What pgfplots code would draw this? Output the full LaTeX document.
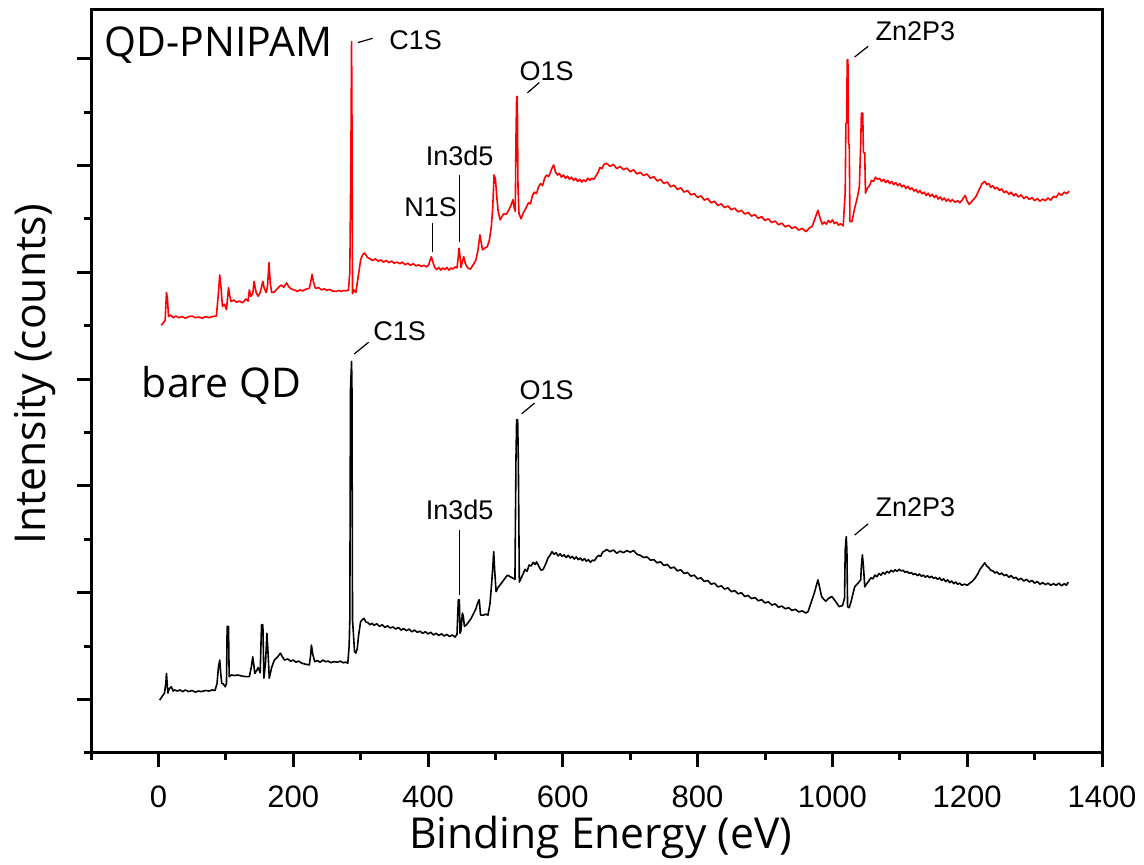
\documentclass[border=0pt]{standalone}
\usepackage{fontspec}
\setmainfont{Liberation Sans}
\newfontfamily\osans{Open Sans}
\usepackage{pgfplots}
\pgfplotsset{compat=1.18}
\begin{document}
\begin{tikzpicture}
\begin{axis}[
 scale only axis, width=505.5pt, height=371.5pt,
 xmin=-100, xmax=1400, ymin=0, ymax=13.91,
 axis line style={line width=1.5pt},
 xtick={0,200,...,1400}, minor xtick={-100,100,...,1300},
 ytick={1,3,...,13}, minor ytick={0,2,...,14}, yticklabels={},
 tick align=outside, tick pos=left,
 major tick length=7pt, minor tick length=3.5pt,
 every tick/.style={black, line width=1.5pt},
 tick label style={font=\fontsize{15.5}{18}\selectfont},
 xticklabel style={yshift=-6pt},
 /pgf/number format/assume math mode=true,
 /pgf/number format/1000 sep={},
 xlabel={Binding Energy (eV)}, ylabel={Intensity (counts)},
 label style={font=\osans\fontsize{21.3}{25}\selectfont},
 xlabel style={at={(axis description cs:0.504,-0.113)}, anchor=center},
 ylabel style={at={(axis description cs:-0.0554,0.51)}, anchor=center},
]
% QD-PNIPAM (red)
\addplot[red, line width=0.8pt, line join=round] coordinates {
(4,8.01)(7,8.05)(10,8.10)(12,8.62)(13.5,8.50)(15,8.17)(18,8.20)(22,8.15)(26,8.18)(30,8.15)(35,8.17)(40,8.14)(45,8.17)(50,8.18)(55,8.15)(60,8.16)(65,8.14)(70,8.17)(75,8.15)(80,8.17)(86,8.18)(89,8.60)(91,8.95)(93,8.70)(95,8.36)(98,8.40)(101,8.30)(104,8.71)(106,8.55)(108,8.45)(112,8.48)(116,8.44)(120,8.46)(125,8.43)(130,8.50)(133,8.46)(135,8.67)(137,8.55)(140,8.60)(142,8.83)(145,8.62)(148,8.55)(151,8.62)(155,8.83)(157,8.70)(160,8.62)(162,8.75)(164,9.18)(166,8.80)(168,8.62)(172,8.63)(177,8.70)(182,8.76)(186,8.72)(190,8.80)(194,8.72)(198,8.68)(202,8.67)(206,8.64)(210,8.67)(214,8.65)(218,8.68)(224,8.70)(226,8.82)(228,8.96)(230,8.82)(233,8.70)(238,8.71)(242,8.67)(246,8.69)(250,8.66)(254,8.68)(258,8.65)(264,8.64)(268,8.66)(271,8.64)(275,8.66)(278,8.65)(282,8.67)(284,9.0)(285,10.32)(285.8,11.6)(286.6,13.32)(287.3,11.6)(288,8.60)(290,8.67)(293,8.62)(295,8.80)(298,9.05)(300,9.23)(303,9.33)(306,9.36)(310,9.28)(314,9.25)(318,9.22)(322,9.25)(326,9.21)(330,9.23)(334,9.19)(338,9.22)(342,9.18)(346,9.21)(350,9.17)(354,9.19)(358,9.16)(362,9.19)(366,9.14)(370,9.17)(374,9.13)(378,9.16)(382,9.12)(386,9.14)(390,9.11)(394,9.13)(398,9.10)(401,9.14)(403,9.22)(405,9.29)(407,9.20)(410,9.09)(413,9.05)(416,9.09)(419,9.04)(422,9.08)(425,9.05)(428,9.09)(431,9.04)(434,9.08)(437,9.06)(440,9.10)(443,9.08)(445,9.30)(446,9.45)(447.5,9.30)(449,9.09)(451,9.20)(453,9.29)(455,9.18)(457,9.12)(460,9.07)(463,9.06)(466,9.12)(469,9.18)(471,9.23)(474,9.40)(477,9.70)(479,9.55)(481,9.42)(484,9.45)(488,9.48)(491,9.60)(494,9.86)(496,10.2)(498,10.82)(500,10.75)(502,10.42)(504,10.15)(507,9.98)(510,10.05)(513,10.10)(516,10.08)(520,10.17)(523,10.25)(526,10.36)(528,10.20)(529.5,10.14)(530.5,11.5)(531.5,12.29)(532.5,12.29)(533.5,10.6)(535,10.10)(538,10.00)(540,10.07)(543,10.15)(546,10.22)(549,10.30)(552,10.28)(555,10.44)(558,10.50)(561,10.47)(564,10.60)(567,10.66)(570,10.62)(573,10.76)(576,10.82)(579,10.79)(582,10.88)(584,10.95)(586.5,11.01)(589,10.88)(592,10.82)(595,10.85)(598,10.78)(601,10.82)(604,10.76)(607,10.80)(610,10.74)(613,10.78)(616,10.72)(619,10.76)(622,10.70)(625,10.74)(628,10.69)(631,10.73)(634,10.70)(637,10.76)(640,10.72)(643,10.76)(646,10.74)(649,10.80)(652,10.86)(655,10.96)(658,10.94)(661,11.02)(665,11.04)(670,10.98)(675,11.02)(680,10.94)(685,10.98)(690,10.92)(695,10.95)(700,10.88)(705,10.92)(710,10.84)(715,10.87)(720,10.81)(725,10.84)(730,10.76)(735,10.79)(740,10.71)(745,10.74)(750,10.66)(755,10.69)(760,10.60)(765,10.63)(770,10.55)(775,10.58)(780,10.50)(785,10.53)(790,10.45)(795,10.47)(800,10.40)(805,10.43)(810,10.35)(815,10.38)(820,10.30)(825,10.33)(830,10.25)(835,10.28)(840,10.21)(845,10.24)(850,10.17)(855,10.20)(860,10.13)(865,10.16)(870,10.09)(875,10.12)(880,10.05)(885,10.08)(890,10.01)(895,10.04)(900,9.97)(905,10.00)(910,9.93)(915,9.96)(920,9.89)(925,9.92)(930,9.85)(935,9.88)(940,9.82)(945,9.85)(950,9.79)(955,9.82)(961,9.76)(965,9.82)(970,9.86)(974,10.00)(978.5,10.16)(982,10.00)(985,9.90)(988,9.94)(991,9.90)(994,9.97)(997,9.93)(1000,9.98)(1003,9.91)(1006,9.94)(1009,9.88)(1012,9.91)(1016,9.87)(1019,10.5)(1020,11.79)(1021,11.79)(1022,12.98)(1023,12.98)(1024,11.39)(1025,11.39)(1026,9.95)(1029,9.95)(1033,10.2)(1037,10.4)(1040,10.6)(1042,11.42)(1043,11.98)(1045,11.98)(1046,11.24)(1048,11.24)(1049,10.48)(1052,10.58)(1055,10.62)(1058,10.72)(1061,10.70)(1064,10.78)(1067,10.74)(1070,10.76)(1073,10.70)(1076,10.74)(1079,10.68)(1082,10.72)(1085,10.66)(1088,10.70)(1091,10.64)(1094,10.68)(1097,10.62)(1100,10.66)(1103,10.60)(1106,10.63)(1109,10.57)(1112,10.61)(1115,10.55)(1118,10.58)(1121,10.52)(1124,10.55)(1127,10.49)(1130,10.53)(1133,10.47)(1136,10.50)(1139,10.44)(1142,10.48)(1145,10.42)(1148,10.46)(1151,10.40)(1154,10.44)(1157,10.37)(1160,10.41)(1163,10.35)(1166,10.39)(1169,10.33)(1172,10.37)(1175,10.32)(1178,10.36)(1182,10.31)(1186,10.34)(1189,10.30)(1193,10.36)(1197,10.44)(1200,10.33)(1203,10.27)(1207,10.33)(1210,10.37)(1213,10.42)(1216,10.50)(1219,10.58)(1222,10.66)(1226,10.70)(1229,10.64)(1232,10.66)(1235,10.59)(1238,10.62)(1241,10.56)(1244,10.59)(1248,10.53)(1251,10.56)(1255,10.49)(1258,10.52)(1262,10.46)(1265,10.50)(1269,10.43)(1272,10.47)(1276,10.41)(1280,10.45)(1284,10.38)(1288,10.42)(1292,10.36)(1296,10.40)(1300,10.34)(1304,10.38)(1308,10.33)(1312,10.37)(1316,10.34)(1320,10.39)(1324,10.35)(1328,10.42)(1332,10.40)(1336,10.48)(1340,10.44)(1344,10.50)(1348,10.47)(1351,10.52)
};
% bare QD (black)
\addplot[black, line width=0.8pt, line join=round] coordinates {
(2,0.99)(5,1.05)(9,1.12)(11,1.30)(12,1.49)(13,1.30)(14,1.12)(16,1.20)(19,1.24)(22,1.16)(24,1.18)(28,1.16)(32,1.18)(36,1.15)(40,1.18)(45,1.15)(50,1.17)(55,1.14)(59,1.16)(64,1.15)(70,1.17)(75,1.16)(80,1.18)(84,1.17)(87,1.30)(89,1.60)(91,1.74)(92.5,1.49)(94,1.30)(96,1.30)(99,1.24)(101,1.30)(102,2.37)(104,2.37)(105,1.43)(108,1.46)(113,1.45)(118,1.46)(124,1.44)(130,1.43)(135,1.43)(138,1.62)(140,1.80)(142,1.60)(143,1.49)(146,1.55)(148,1.60)(151,1.50)(153,2.40)(155,2.40)(156.5,1.40)(159,1.70)(161,2.24)(163,1.80)(164.5,1.40)(168,1.60)(172,1.74)(177,1.80)(181,1.87)(184,1.80)(187,1.74)(192,1.76)(196,1.72)(200,1.74)(204,1.70)(208,1.72)(213,1.68)(219,1.66)(224,1.65)(226,1.85)(227,2.02)(229,1.85)(232,1.71)(236,1.73)(240,1.70)(244,1.74)(248,1.71)(252,1.72)(256,1.69)(260,1.71)(266,1.70)(270,1.72)(274,1.69)(278,1.70)(281,1.68)(283,2.0)(284,2.49)(285,6.80)(286.6,7.33)(287.2,6.80)(288,2.49)(289,2.3)(291,1.90)(293,1.87)(295,1.95)(297,2.2)(300,2.46)(303,2.50)(305,2.52)(308,2.45)(311,2.44)(314,2.40)(317,2.43)(320,2.39)(324,2.42)(328,2.37)(332,2.40)(336,2.35)(340,2.38)(344,2.34)(348,2.36)(352,2.32)(356,2.35)(360,2.30)(364,2.33)(368,2.29)(372,2.32)(376,2.27)(380,2.30)(384,2.26)(388,2.28)(392,2.24)(396,2.27)(400,2.23)(404,2.26)(408,2.21)(412,2.24)(416,2.20)(420,2.23)(424,2.19)(428,2.22)(432,2.18)(436,2.21)(440,2.17)(443,2.22)(445,2.87)(446.5,2.87)(447.5,2.24)(449,2.30)(451,2.62)(452.5,2.55)(454,2.37)(457,2.40)(460,2.45)(464,2.52)(468,2.62)(471,2.70)(474,2.82)(476,2.87)(478,2.58)(482,2.58)(486,2.60)(489,2.58)(492,2.80)(494,3.11)(496,3.45)(497.5,3.77)(499,3.40)(501,3.02)(504,3.10)(509,3.18)(513,3.25)(518,3.33)(522,3.30)(526.6,3.27)(529,3.25)(530.5,5.5)(531.5,6.24)(533,6.24)(534,5.5)(535.5,3.20)(538,3.27)(541,3.35)(544,3.44)(547,3.40)(550,3.52)(553,3.50)(556,3.57)(559,3.53)(561,3.58)(565,3.48)(568,3.42)(571,3.44)(575,3.55)(578,3.65)(581,3.70)(584,3.77)(587,3.72)(590,3.75)(593,3.69)(596,3.73)(599,3.68)(602,3.71)(605,3.66)(608,3.70)(611,3.65)(614,3.68)(617,3.63)(620,3.67)(623,3.62)(626,3.65)(629,3.60)(632,3.64)(635,3.59)(638,3.62)(641,3.57)(644,3.61)(647,3.60)(650,3.66)(653,3.70)(656,3.68)(659,3.76)(662,3.78)(665,3.81)(670,3.77)(675,3.80)(680,3.74)(685,3.78)(690,3.75)(695,3.79)(700,3.76)(705,3.79)(710,3.72)(715,3.70)(720,3.66)(725,3.67)(730,3.61)(735,3.62)(740,3.56)(745,3.58)(750,3.51)(755,3.53)(760,3.46)(765,3.48)(770,3.41)(775,3.43)(780,3.36)(785,3.38)(790,3.31)(795,3.33)(800,3.26)(805,3.28)(810,3.21)(815,3.23)(820,3.16)(825,3.18)(830,3.11)(835,3.13)(840,3.07)(845,3.09)(850,3.02)(855,3.04)(860,2.98)(865,3.00)(870,2.93)(875,2.95)(880,2.89)(885,2.91)(890,2.85)(895,2.87)(900,2.81)(905,2.83)(910,2.77)(915,2.79)(920,2.73)(925,2.75)(930,2.70)(935,2.72)(940,2.67)(945,2.69)(950,2.64)(955,2.66)(961,2.62)(964,2.65)(968,2.80)(973,2.99)(978.5,3.24)(981,3.10)(984,2.93)(987,2.88)(990,2.84)(995,2.90)(999,2.93)(1004,2.85)(1010,2.74)(1015,2.76)(1018,2.90)(1019,3.8)(1020.5,4.05)(1021.5,3.80)(1022.5,2.74)(1025,2.72)(1028,2.85)(1033,3.11)(1038,3.18)(1042,3.24)(1043,3.5)(1044.5,3.71)(1046,3.5)(1048,3.11)(1051,3.17)(1054,3.22)(1057,3.28)(1060,3.26)(1063,3.33)(1066,3.30)(1069,3.36)(1072,3.33)(1075,3.38)(1078,3.35)(1081,3.40)(1084,3.37)(1087,3.42)(1090,3.39)(1093,3.43)(1096,3.40)(1099,3.44)(1102,3.41)(1105,3.42)(1108,3.38)(1111,3.40)(1114,3.36)(1117,3.38)(1120,3.34)(1123,3.36)(1126,3.32)(1129,3.35)(1132,3.31)(1135,3.33)(1138,3.29)(1141,3.32)(1144,3.28)(1147,3.31)(1150,3.27)(1153,3.29)(1156,3.25)(1159,3.28)(1162,3.23)(1165,3.26)(1168,3.21)(1171,3.24)(1174,3.19)(1177,3.22)(1180,3.17)(1183,3.20)(1186,3.16)(1189,3.18)(1192,3.14)(1196,3.16)(1200,3.14)(1204,3.18)(1208,3.22)(1212,3.28)(1216,3.36)(1219,3.44)(1222,3.49)(1226,3.56)(1229,3.50)(1232,3.47)(1235,3.42)(1238,3.41)(1241,3.37)(1244,3.39)(1248,3.34)(1251,3.37)(1255,3.32)(1258,3.34)(1262,3.29)(1265,3.32)(1269,3.27)(1272,3.29)(1276,3.24)(1280,3.27)(1284,3.22)(1288,3.25)(1292,3.20)(1296,3.23)(1300,3.18)(1304,3.21)(1308,3.16)(1312,3.19)(1316,3.15)(1320,3.18)(1324,3.14)(1328,3.17)(1332,3.14)(1336,3.18)(1340,3.13)(1344,3.17)(1347,3.14)(1350,3.20)
};
% sample labels
\node[anchor=west, font=\osans\fontsize{20.5}{24}\selectfont, inner sep=0pt] at (axis cs:-80,13.26) {QD-PNIPAM};
\node[anchor=west, font=\osans\fontsize{20.5}{24}\selectfont, inner sep=0pt] at (axis cs:-25,6.89) {bare QD};
% peak labels
\begin{scope}[every node/.style={font=\fontsize{13.5}{16}\selectfont, inner sep=0pt}]
\node[anchor=west] at (axis cs:342,13.35) {C1S};
\draw[line width=0.6pt] (axis cs:296,13.30) -- (axis cs:318,13.38);
\node at (axis cs:404,10.22) {N1S};
\draw[line width=0.6pt] (axis cs:406.5,9.93) -- (axis cs:406.5,9.38);
\node at (axis cs:447,11.18) {In3d5};
\draw[line width=0.6pt] (axis cs:447,10.82) -- (axis cs:447,9.56);
\node at (axis cs:576,12.77) {O1S};
\draw[line width=0.6pt] (axis cs:547.6,12.36) -- (axis cs:565,12.55);
\node at (axis cs:1123,13.52) {Zn2P3};
\draw[line width=0.6pt] (axis cs:1033,13.03) -- (axis cs:1053,13.23);
\node at (axis cs:358,7.90) {C1S};
\draw[line width=0.6pt] (axis cs:290.5,7.47) -- (axis cs:312,7.69);
\node at (axis cs:447,4.55) {In3d5};
\draw[line width=0.6pt] (axis cs:447,4.18) -- (axis cs:447,2.95);
\node at (axis cs:576,6.80) {O1S};
\draw[line width=0.6pt] (axis cs:539,6.35) -- (axis cs:558,6.55);
\node at (axis cs:1123,4.61) {Zn2P3};
\draw[line width=0.6pt] (axis cs:1033,4.08) -- (axis cs:1053,4.29);
\end{scope}
\end{axis}
\pgfresetboundingbox
\path ([xshift=-45.5pt,yshift=-56pt]current axis.south west) rectangle ([xshift=21pt,yshift=5pt]current axis.north east);
\end{tikzpicture}
\end{document}
